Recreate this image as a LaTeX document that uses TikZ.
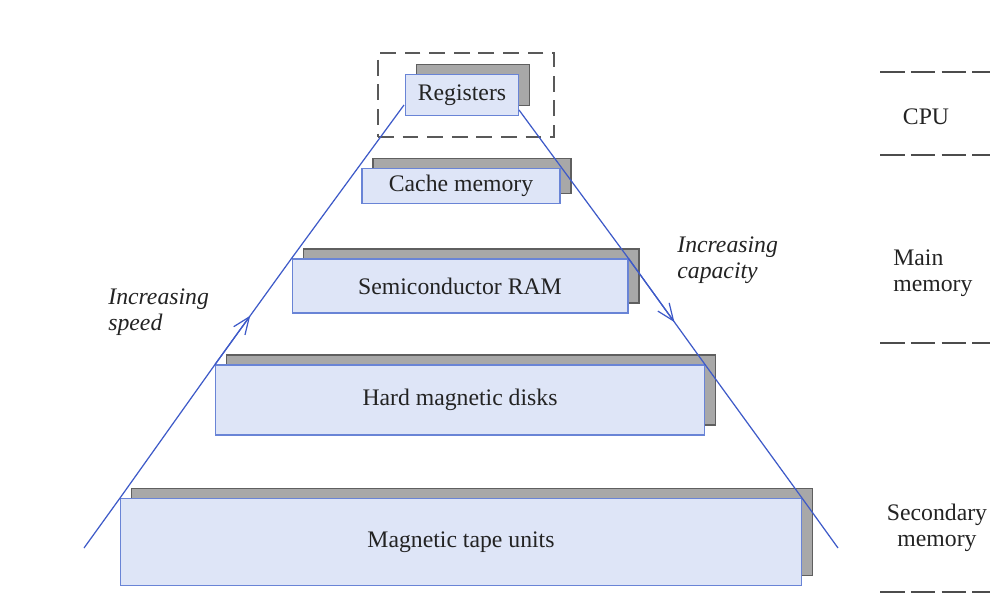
\documentclass[tikz,border=0pt]{standalone}
\usepackage{fontspec}
\setmainfont{Liberation Serif}
\usetikzlibrary{arrows.meta,shadows,calc}

\definecolor{levelfill}{RGB}{222,229,247}
\definecolor{levelline}{RGB}{105,132,214}
\definecolor{shadowfill}{RGB}{168,168,168}
\definecolor{shadowline}{RGB}{95,95,95}
\definecolor{slopecol}{RGB}{62,90,200}
\definecolor{inkcol}{RGB}{35,35,35}

\begin{document}
\begin{tikzpicture}[x=0.02cm,y=-0.02cm,>={Straight Barb[length=3.4mm,width=2.8mm]},
    level/.style={rectangle,draw=levelline,fill=levelfill,line width=0.6pt,
      inner sep=0pt,font=\fontsize{13.5}{15}\selectfont,text=inkcol,
      copy shadow={shadow xshift=0.22cm,shadow yshift=0.2cm,
        fill=shadowfill,draw=shadowline,line width=0.6pt}},
    slope/.style={draw=slopecol,line width=0.7pt},
    note/.style={font=\fontsize{13.5}{15}\selectfont\itshape,text=inkcol,align=left,inner sep=0pt},
    side/.style={font=\fontsize{13.5}{15}\selectfont,text=inkcol,inner sep=0pt},
    split/.style={draw=black!70,line width=0.8pt,dash pattern=on 14pt off 3.5pt}]
\useasboundingbox (0,0) rectangle (990,597);

% the five levels of the hierarchy
\node[level,minimum width=2.26cm,minimum height=0.82cm] at (462,95) (reg) {Registers};
\node[level,minimum width=3.96cm,minimum height=0.70cm] at (461,186) (cache) {Cache memory};
\node[level,minimum width=6.72cm,minimum height=1.08cm] at (460,286) (ram) {Semiconductor RAM};
\node[level,minimum width=9.78cm,minimum height=1.40cm] at (460,400) (disk) {Hard magnetic disks};
\node[level,minimum width=13.62cm,minimum height=1.74cm] at (461,542) (tape) {Magnetic tape units};
\node[draw=black!65,dash pattern=on 9pt off 5pt,line width=0.7pt,
      minimum width=3.52cm,minimum height=1.68cm] at (466,95) (cpubox) {};

% sides of the pyramid
\coordinate (lbot) at (84,548);
\coordinate (ltop) at (404,105);
\coordinate (rtop) at (519,110);
\coordinate (rbot) at (838,548);
\draw[slope] (lbot) -- (tape.north west) -- (disk.north west) -- (ram.north west) -- (ltop);
\draw[slope] (rtop) -- (ram.north east) -- (disk.north east) -- (tape.north east) -- (rbot);
\draw[slope,->] (disk.north west) -- ($(disk.north west)!0.46!(ram.north west)$);
\draw[slope,->] (ram.north east) -- ($(ram.north east)!0.6!(disk.north east)$);

\node[note,anchor=north west] at (108,288) (speed) {Increasing\\speed};
\node[note,anchor=north west] at (677,236) (capacity) {Increasing\\capacity};

% levels named on the right
\foreach \y in {72,155,343,592}
  \draw[split] (880,\y) -- (990,\y);
\node[side] at (926,117) (cpu) {CPU};
\node[side,align=left,anchor=west] at (893,273) (main) {Main\\memory};
\node[side,align=center] at (937,528) (second) {Secondary\\memory};
\end{tikzpicture}
\end{document}
